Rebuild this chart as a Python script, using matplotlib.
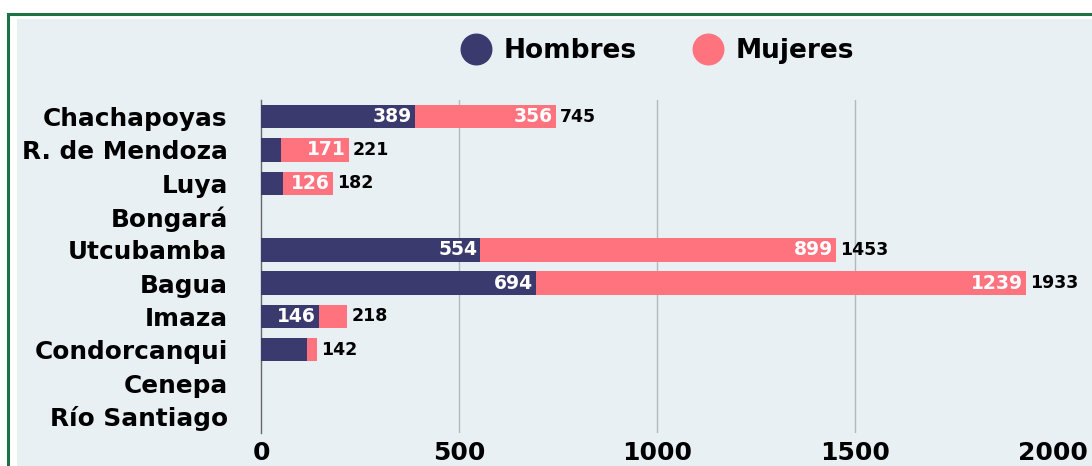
import numpy as np
import matplotlib.pyplot as plt
from matplotlib.patches import Rectangle
from matplotlib.lines import Line2D

# data
provincias = ['Chachapoyas', 'R. de Mendoza', 'Luya', 'Bongará', 'Utcubamba',
              'Bagua', 'Imaza', 'Condorcanqui', 'Cenepa', 'Río Santiago']
hombres = [389, 50, 56, 0, 554, 694, 146, 117, 0, 0]
mujeres = [356, 171, 126, 0, 899, 1239, 72, 25, 0, 0]
xticks = [0, 500, 1000, 1500, 2000]

navy = '#3b3a6e'
pink = '#ff737f'
panel = '#e9f0f4'
green = '#1e7145'

fig = plt.figure(figsize=(10.92, 4.66), dpi=100)
fig.patch.set_facecolor('white')

# framed panel
fig.add_artist(Rectangle((8 / 1092, -0.2), 1.2, 1.2 - 14 / 466, transform=fig.transFigure,
                         facecolor='white', edgecolor=green, lw=2.2, zorder=-3))
fig.add_artist(Rectangle((17 / 1092, -0.2), 1.2, 1.2 - 19 / 466, transform=fig.transFigure,
                         facecolor=panel, edgecolor='none', zorder=-2))

ax = fig.add_axes([261 / 1092, 1 - 433 / 466, (1053 - 261) / 1092, (433 - 100) / 466])
ax.set_facecolor('none')

y = np.arange(len(provincias))
h = np.array(hombres)
m = np.array(mujeres)
ax.barh(y, h, height=0.7, color=navy, zorder=3)
ax.barh(y, m, left=h, height=0.7, color=pink, zorder=3)

for i in range(len(provincias)):
    tot = h[i] + m[i]
    if h[i] >= 120:
        ax.text(h[i] - 8, y[i], str(h[i]), color='white', fontsize=13.5, fontweight='bold',
                ha='right', va='center', zorder=4)
    if m[i] >= 120:
        ax.text(tot - 8, y[i], str(m[i]), color='white', fontsize=13.5, fontweight='bold',
                ha='right', va='center', zorder=4)
    if tot > 0:
        ax.text(tot + 10, y[i], str(tot), color='black', fontsize=12.5, fontweight='bold',
                ha='left', va='center', zorder=4)

ax.set_xlim(0, 2000)
ax.set_ylim(len(provincias) - 0.5, -0.5)
ax.set_yticks(y)
ax.set_yticklabels(provincias, fontsize=17.8, fontweight='bold')
ax.tick_params(axis='y', length=0, pad=24)
ax.set_xticks(xticks)
ax.set_xticklabels([str(t) for t in xticks], fontsize=18, fontweight='bold')
ax.tick_params(axis='x', length=0, pad=6)
for s in ['top', 'right', 'bottom']:
    ax.spines[s].set_visible(False)
ax.spines['left'].set_color('#666666')
ax.spines['left'].set_linewidth(1)
for t in xticks[1:-1]:
    ax.axvline(t, color='#b5b8bb', lw=1, zorder=1)

handles = [Line2D([], [], marker='o', color='none', markerfacecolor=navy, markeredgecolor=navy,
                  markersize=22, label='Hombres'),
           Line2D([], [], marker='o', color='none', markerfacecolor=pink, markeredgecolor=pink,
                  markersize=22, label='Mujeres')]
fig.legend(handles=handles, loc='center', bbox_to_anchor=(657 / 1092, 1 - 51 / 466), ncol=2,
           frameon=False, prop={'size': 19, 'weight': 'bold'}, handletextpad=0.45,
           columnspacing=2.1, handlelength=1.2)

fig.savefig('out.png', dpi=100)
